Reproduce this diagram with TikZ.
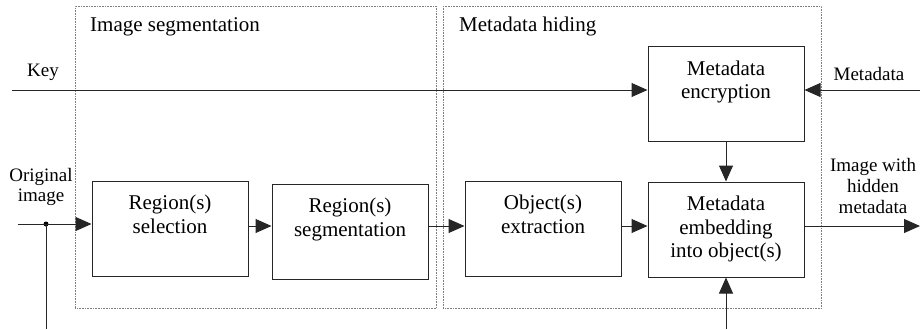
\documentclass[tikz,border=0pt]{standalone}
\usepackage{fontspec}
\setmainfont{Liberation Serif}
\usetikzlibrary{arrows.meta}
\begin{document}
\begin{tikzpicture}[x=1pt,y=-1pt,
  block/.style={draw=black!85, line width=1pt, minimum width=156pt,
    minimum height=95pt, inner sep=0pt, align=center,
    font=\fontsize{21}{23.5}\selectfont},
  stage/.style={draw=black!50, line width=0.8pt, dash pattern=on 0.8pt off 0.8pt,
    inner sep=0pt, anchor=north west},
  flow/.style={draw=black!85, line width=1pt, -{Triangle[length=16pt,width=14pt]}},
  wire/.style={draw=black!85, line width=1pt},
  lbl/.style={font=\fontsize{19}{21}\selectfont, align=center, inner sep=0pt},
  title/.style={font=\fontsize{21}{24}\selectfont, inner sep=0pt, anchor=base west}]
\useasboundingbox (0,0) rectangle (920,329);

% processing stages
\node[stage, minimum width=361pt, minimum height=302pt] (segstage) at (75,6) {};
\node[stage, minimum width=378pt, minimum height=302pt] (hidestage) at (443,6) {};
\node[title] (segtitle) at (90,32) {Image segmentation};
\node[title] (hidetitle) at (459,32) {Metadata hiding};

% blocks
\node[block] (sel) at (170,228.5) {\strut Region(s)\\\strut selection\\\strut};
\node[block] (seg) at (350,231.5) {\strut Region(s)\\\strut segmentation\\\strut};
\node[block] (ext) at (543,228.5) {\strut Object(s)\\\strut extraction\\\strut};
\node[block] (emb) at (726,229.5) {\strut Metadata\\\strut embedding\\\strut into object(s)};
\node[block, minimum height=94pt] (enc) at (726,94) {\strut Metadata\\\strut encryption\\\strut};

% outside labels
\node[lbl, anchor=base] (keylbl) at (43,76) {Key};
\node[lbl, anchor=base] (mdlbl) at (869,81) {Metadata};
\node[lbl, font=\fontsize{19}{20}\selectfont] (inlbl) at (41,187) {\strut Original\\\strut image};
\node[lbl] (outlbl) at (873,188) {\strut Image with\\\strut hidden\\\strut metadata};

% free ends
\coordinate (keyin) at (12,90);
\coordinate (mdin) at (920,90);
\coordinate (imgin) at (18,224);
\coordinate (tapout) at (46,329);
\coordinate (imgout) at (920,226);
\coordinate (auxin) at (726,329);
\coordinate (row) at (0,226);

% connectors
\draw[flow] (keyin) -- (enc.west |- keyin);
\draw[flow] (mdin) -- (enc.east |- mdin);
\node[circle, fill=black, inner sep=0pt, minimum size=5pt] (tap) at (46,224) {};
\draw[flow] (imgin) -- (sel.west |- imgin);
\draw[wire] (tap.center) -- (tapout);
\draw[flow] (sel.east |- row) -- (seg.west |- row);
\draw[flow] (seg.east |- row) -- (ext.west |- row);
\draw[flow] (ext.east |- row) -- (emb.west |- row);
\draw[flow] (emb.east |- row) -- (imgout);
\draw[flow] (enc) -- (emb);
\draw[flow] (auxin) -- (emb.south);
\end{tikzpicture}
\end{document}
